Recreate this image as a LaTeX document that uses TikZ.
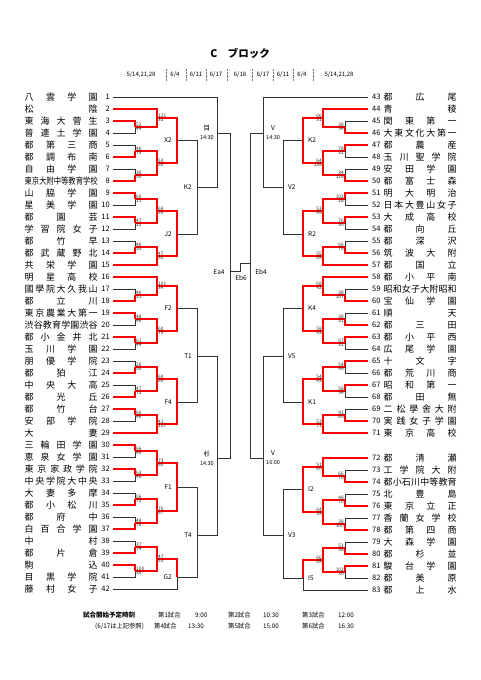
\documentclass[tikz,border=0pt]{standalone}
\usepackage{fontspec}
\setmainfont{Noto Sans CJK JP}
\usepackage{graphicx}
\usetikzlibrary{positioning}

\tikzset{
plainline/.style = {draw=black!80, line width=0.6pt},
winline/.style = {draw=red, line width=1.3pt},
sepline/.style = {draw=black!55, line width=0.4pt, densely dotted},
teamname/.style = {inner sep=0pt, font=\fontsize{9}{9}\selectfont},
teamno/.style = {inner sep=0pt, font=\fontsize{7.5}{8}\selectfont},
score/.style = {inner sep=0.2pt, text=black!85, font=\fontsize{4.8}{5}\selectfont},
mlabel/.style = {inner sep=0pt, align=center, font=\fontsize{6.5}{9}\selectfont},
datelabel/.style = {inner sep=0pt, font=\fontsize{6}{6}\selectfont},
foot/.style = {inner sep=0pt, anchor=west, font=\fontsize{6.3}{7}\selectfont}
}

% names spread over a fixed width
\newsavebox\namebox
\def\spfirst#1{#1\sploop}
\def\sploop#1{\ifx\relax#1\else\hfill#1\expandafter\sploop\fi}
\newcommand\spreadname[2]{\sbox\namebox{#1}%
  \ifdim\wd\namebox>#2\resizebox{#2}{\height}{#1}\else\makebox[#2][s]{\spfirst#1\relax}\fi}

\newcommand\bseg[2]{\draw[plainline] (#1) -| (#2);}
\newcommand\rseg[2]{\draw[winline] (#1) -| (#2);}
\newcommand\lsc[3]{\node[score, anchor=south west] (#1-u) at ([xshift=0.8pt]#1) {#2};
  \node[score, anchor=north west] (#1-d) at ([xshift=0.8pt]#1) {#3};}
\newcommand\rsc[3]{\node[score, anchor=south east] (#1-u) at ([xshift=-0.8pt]#1) {#2};
  \node[score, anchor=north east] (#1-d) at ([xshift=-0.8pt]#1) {#3};}

\begin{document}
\begin{tikzpicture}[x=1pt,y=-1pt]
\useasboundingbox (0,0) rectangle (481,680);

% header
\node[font=\bfseries\fontsize{10.5}{11}\selectfont] (title) at (240,53) {C\quad ブロック};
\node[datelabel] (d1) at (141,75) {5/14,21,28};
\node[datelabel] (d2) at (175,75) {6/4};
\node[datelabel] (d3) at (196,75) {6/11};
\node[datelabel] (d4) at (216,75) {6/17};
\node[datelabel] (d5) at (240,75) {6/18};
\node[datelabel] (d6) at (263,75) {6/17};
\node[datelabel] (d7) at (283,75) {6/11};
\node[datelabel] (d8) at (302,75) {6/4};
\node[datelabel] (d9) at (339,75) {5/14,21,28};
\foreach \x in {166,186,206,227,252,273,293,313}
  \draw[sepline] (\x,69) -- (\x,81);

% left teams
\foreach \i/\nm in {1/八雲学園, 2/松陰, 3/東海大菅生, 4/普連土学園, 5/都第三商,
  6/都調布南, 7/自由学園, 8/東京大附中等教育学校, 9/山脇学園, 10/星美学園,
  11/都園芸, 12/学習院女子, 13/都竹早, 14/都武蔵野北, 15/共栄学園, 16/明星高校,
  17/國學院大久我山, 18/都立川, 19/東京農業大第一, 20/渋谷教育学園渋谷,
  21/都小金井北, 22/玉川学園, 23/朋優学院, 24/都狛江, 25/中央大高, 26/都光丘,
  27/都竹台, 28/安部学院, 29/大妻, 30/三輪田学園, 31/恵泉女学園, 32/東京家政学院,
  33/中央学院大中央, 34/大妻多摩, 35/都小松川, 36/都府中, 37/白百合学園,
  38/中村, 39/都片倉, 40/駒込, 41/目黒学院, 42/藤村女子}{
  \pgfmathsetmacro\yy{97+12*(\i-1)}
  \node[teamname, anchor=west] (ln\i) at (24.5,\yy) {\expandafter\spreadname\expandafter{\nm}{73pt}};
  \node[teamno, anchor=east] (lno\i) at (110,\yy) {\i};
  \coordinate (t\i) at (113,\yy);
}

% right teams
\foreach \i/\nm in {43/都広尾, 44/青稜, 45/関東第一, 46/大東文化大第一, 47/都農産,
  48/玉川聖学院, 49/安田学園, 50/都富士森, 51/明大明治, 52/日本大豊山女子,
  53/大成高校, 54/都向丘, 55/都深沢, 56/筑波大附, 57/都国立, 58/都小平南,
  59/昭和女子大附昭和, 60/宝仙学園, 61/順天, 62/都三田, 63/都小平西, 64/広尾学園,
  65/十文字, 66/都荒川商, 67/昭和第一, 68/都田無, 69/二松學舍大附, 70/実践女子学園,
  71/東京高校, 72/都清瀬, 73/工学院大附, 74/都小石川中等教育, 75/北豊島,
  76/東京立正, 77/香蘭女学校, 78/都第四商, 79/大森学園, 80/都杉並, 81/駿台学園,
  82/都美原, 83/都上水}{
  \pgfmathsetmacro\yy{\i<72 ? 97+12*(\i-43) : 458+12*(\i-72)}
  \node[teamname, anchor=west] (rn\i) at (383.5,\yy) {\expandafter\spreadname\expandafter{\nm}{73pt}};
  \node[teamno, anchor=west] (rno\i) at (372,\yy) {\i};
  \coordinate (t\i) at (368,\yy);
}

% left matches
\foreach \a/\b in {3/4, 5/6, 7/8, 9/10, 11/12, 13/14, 17/18, 19/20, 21/22,
  23/24, 25/26, 27/28, 30/31, 32/33, 34/35, 36/37, 38/39, 40/41}
  \coordinate (l\a\b) at (135,{103+12*(\a-1)});
\coordinate (la) at (157,118);
\coordinate (lb) at (157,163);
\coordinate (lc) at (157,211);
\coordinate (ld) at (157,256);
\coordinate (le) at (157,286);
\coordinate (lf) at (157,331);
\coordinate (lg) at (157,379);
\coordinate (lh) at (157,424);
\coordinate (li) at (157,463);
\coordinate (lj) at (157,511);
\coordinate (lk) at (157,559);
\coordinate (lX2) at (177,140);
\coordinate (lJ2) at (177,234);
\coordinate (lF2) at (177,308);
\coordinate (lF4) at (177,402);
\coordinate (lF1) at (177,487);
\coordinate (lG2) at (177,577);
\coordinate (lK2) at (197,187);
\coordinate (lT1) at (197,356);
\coordinate (lT4) at (197,535);
\coordinate (lme) at (217,133);
\coordinate (lsugi) at (217,458);
\coordinate (ea4) at (230,271);

% right matches
\foreach \a/\b in {45/46, 47/48, 49/50, 51/52, 53/54, 55/56, 59/60, 61/62, 63/64,
  65/66, 67/68, 69/70, 73/74, 75/76, 77/78, 79/80, 81/82}
  \coordinate (r\a\b) at (345,{\a<72 ? 103+12*(\a-43) : 464+12*(\a-72)});
\coordinate (ra) at (323,118);
\coordinate (rb) at (323,163);
\coordinate (rc) at (323,211);
\coordinate (rd) at (323,256);
\coordinate (re) at (323,286);
\coordinate (rf) at (323,331);
\coordinate (rg) at (323,379);
\coordinate (rh) at (323,424);
\coordinate (ri) at (323,467);
\coordinate (rj) at (323,512);
\coordinate (rk) at (323,560);
\coordinate (rK2) at (303,140);
\coordinate (rR2) at (303,234);
\coordinate (rK4) at (303,308);
\coordinate (rK1) at (303,402);
\coordinate (rI2) at (303,489);
\coordinate (rI5) at (303,578);
\coordinate (rV2) at (283,187);
\coordinate (rV5) at (283,356);
\coordinate (rV3) at (283,535);
\coordinate (rv1) at (263,133);
\coordinate (rv2) at (263,458);
\coordinate (eb4) at (250,263);
\coordinate (eb6) at (240,267);

% left bracket
\bseg{t1}{lme}
\bseg{t4}{l34} \rseg{t3}{l34}
\rseg{t2}{la} \rseg{l34}{la}
\bseg{t5}{l56} \rseg{t6}{l56}
\bseg{t7}{l78} \rseg{t8}{l78}
\rseg{l56}{lb} \rseg{l78}{lb}
\rseg{la}{lX2} \rseg{lb}{lX2}
\bseg{t10}{l910} \rseg{t9}{l910}
\bseg{t12}{l1112} \rseg{t11}{l1112}
\rseg{l910}{lc} \rseg{l1112}{lc}
\bseg{t13}{l1314} \rseg{t14}{l1314}
\rseg{l1314}{ld} \rseg{t15}{ld}
\rseg{lc}{lJ2} \rseg{ld}{lJ2}
\bseg{lX2}{lK2} \bseg{lJ2}{lK2}
\bseg{lK2}{lme}
\bseg{t17}{l1718} \rseg{t18}{l1718}
\rseg{t16}{le} \rseg{l1718}{le}
\bseg{t20}{l1920} \rseg{t19}{l1920}
\bseg{t22}{l2122} \rseg{t21}{l2122}
\rseg{l1920}{lf} \rseg{l2122}{lf}
\rseg{le}{lF2} \rseg{lf}{lF2}
\bseg{t23}{l2324} \rseg{t24}{l2324}
\bseg{t25}{l2526} \rseg{t26}{l2526}
\rseg{l2324}{lg} \rseg{l2526}{lg}
\bseg{t28}{l2728} \rseg{t27}{l2728}
\rseg{l2728}{lh} \rseg{t29}{lh}
\rseg{lg}{lF4} \rseg{lh}{lF4}
\bseg{lF2}{lT1} \bseg{lF4}{lT1}
\bseg{t31}{l3031} \rseg{t30}{l3031}
\bseg{t33}{l3233} \rseg{t32}{l3233}
\rseg{l3031}{li} \rseg{l3233}{li}
\bseg{t34}{l3435} \rseg{t35}{l3435}
\bseg{t36}{l3637} \rseg{t37}{l3637}
\rseg{l3435}{lj} \rseg{l3637}{lj}
\rseg{li}{lF1} \rseg{lj}{lF1}
\bseg{t38}{l3839} \rseg{t39}{l3839}
\bseg{t41}{l4041} \rseg{t40}{l4041}
\rseg{l3839}{lk} \rseg{l4041}{lk}
\bseg{t42}{lG2} \rseg{lk}{lG2}
\bseg{lF1}{lT4} \bseg{lG2}{lT4}
\bseg{lT1}{lsugi} \bseg{lT4}{lsugi}
\bseg{lme}{ea4} \bseg{lsugi}{ea4}

% right bracket
\bseg{t43}{rv1}
\bseg{t45}{r4546} \rseg{t46}{r4546}
\rseg{t44}{ra} \rseg{r4546}{ra}
\bseg{t48}{r4748} \rseg{t47}{r4748}
\bseg{t49}{r4950} \rseg{t50}{r4950}
\rseg{r4748}{rb} \rseg{r4950}{rb}
\rseg{ra}{rK2} \rseg{rb}{rK2}
\bseg{t52}{r5152} \rseg{t51}{r5152}
\bseg{t54}{r5354} \rseg{t53}{r5354}
\rseg{r5152}{rc} \rseg{r5354}{rc}
\bseg{t55}{r5556} \rseg{t56}{r5556}
\rseg{r5556}{rd} \rseg{t57}{rd}
\rseg{rc}{rR2} \rseg{rd}{rR2}
\bseg{rK2}{rV2} \bseg{rR2}{rV2}
\bseg{rV2}{rv1}
\bseg{t59}{r5960} \rseg{t60}{r5960}
\rseg{t58}{re} \rseg{r5960}{re}
\bseg{t61}{r6162} \rseg{t62}{r6162}
\bseg{t64}{r6364} \rseg{t63}{r6364}
\rseg{r6162}{rf} \rseg{r6364}{rf}
\rseg{re}{rK4} \rseg{rf}{rK4}
\bseg{t66}{r6566} \rseg{t65}{r6566}
\bseg{t68}{r6768} \rseg{t67}{r6768}
\rseg{r6566}{rg} \rseg{r6768}{rg}
\bseg{t69}{r6970} \rseg{t70}{r6970}
\rseg{r6970}{rh} \rseg{t71}{rh}
\rseg{rg}{rK1} \rseg{rh}{rK1}
\bseg{rK4}{rV5} \bseg{rK1}{rV5}
\bseg{t73}{r7374} \rseg{t74}{r7374}
\rseg{t72}{ri} \rseg{r7374}{ri}
\bseg{t75}{r7576} \rseg{t76}{r7576}
\bseg{t77}{r7778} \rseg{t78}{r7778}
\rseg{r7576}{rj} \rseg{r7778}{rj}
\rseg{ri}{rI2} \rseg{rj}{rI2}
\bseg{t79}{r7980} \rseg{t80}{r7980}
\bseg{t82}{r8182} \rseg{t81}{r8182}
\rseg{r7980}{rk} \rseg{r8182}{rk}
\bseg{t83}{rI5} \rseg{rk}{rI5}
\bseg{rI2}{rV3} \bseg{rI5}{rV3}
\bseg{rV5}{rv2} \bseg{rV3}{rv2}
\bseg{rv1}{eb4} \bseg{rv2}{eb4}
\bseg{ea4}{eb6} \bseg{eb4}{eb6}

% scores
\lsc{l34}{52}{44} \lsc{l56}{46}{79} \lsc{l78}{36}{55} \lsc{l910}{60}{11}
\lsc{l1112}{47}{32} \lsc{l1314}{46}{53} \lsc{l1718}{46}{51} \lsc{l1920}{48}{46}
\lsc{l2122}{61}{44} \lsc{l2324}{26}{59} \lsc{l2526}{47}{72} \lsc{l2728}{66}{46}
\lsc{l3031}{66}{46} \lsc{l3233}{63}{46} \lsc{l3435}{56}{73} \lsc{l3637}{48}{70}
\lsc{l3839}{37}{74} \lsc{l4041}{100}{35}
\lsc{la}{131}{33} \lsc{lb}{53}{50} \lsc{lc}{68}{59} \lsc{ld}{47}{93}
\lsc{le}{101}{34} \lsc{lf}{60}{75} \lsc{lg}{60}{69} \lsc{lh}{41}{107}
\lsc{li}{73}{60} \lsc{lj}{76}{67} \lsc{lk}{47}{53}
\rsc{r4546}{38}{54} \rsc{r4748}{78}{32} \rsc{r4950}{34}{116} \rsc{r5152}{102}{26}
\rsc{r5354}{76}{30} \rsc{r5556}{66}{76} \rsc{r5960}{38}{107} \rsc{r6162}{38}{51}
\rsc{r6364}{67}{32} \rsc{r6566}{54}{46} \rsc{r6768}{58}{54} \rsc{r6970}{41}{65}
\rsc{r7374}{66}{76} \rsc{r7576}{48}{70} \rsc{r7778}{38}{100} \rsc{r7980}{51}{56}
\rsc{r8182}{102}{50}
\rsc{ra}{66}{51} \rsc{rb}{64}{135} \rsc{rc}{53}{49} \rsc{rd}{55}{69}
\rsc{re}{68}{42} \rsc{rf}{58}{43} \rsc{rg}{54}{43} \rsc{rh}{53}{71}
\rsc{ri}{91}{60} \rsc{rj}{64}{39} \rsc{rk}{66}{69}

% match labels
\node[mlabel, left=5pt of lX2] (labX2) {X2};
\node[mlabel, left=5pt of lJ2] (labJ2) {J2};
\node[mlabel, left=5pt of lF2] (labF2) {F2};
\node[mlabel, left=5pt of lF4] (labF4) {F4};
\node[mlabel, left=5pt of lF1] (labF1) {F1};
\node[mlabel, left=5pt of lG2] (labG2) {G2};
\node[mlabel, left=5pt of lK2] (labK2) {K2};
\node[mlabel, left=5pt of lT1] (labT1) {T1};
\node[mlabel, left=5pt of lT4] (labT4) {T4};
\node[mlabel, left=3pt of lme] (labme) {目\\{\fontsize{5.5}{6}\selectfont 14:30}};
\node[mlabel, left=3pt of lsugi] (labsugi) {杉\\{\fontsize{5.5}{6}\selectfont 14:30}};
\node[mlabel, right=5pt of rK2] (labrK2) {K2};
\node[mlabel, right=5pt of rR2] (labR2) {R2};
\node[mlabel, right=5pt of rK4] (labK4) {K4};
\node[mlabel, right=5pt of rK1] (labK1) {K1};
\node[mlabel, right=5pt of rI2] (labI2) {I2};
\node[mlabel, right=5pt of rI5] (labI5) {I5};
\node[mlabel, right=5pt of rV2] (labV2) {V2};
\node[mlabel, right=5pt of rV5] (labV5) {V5};
\node[mlabel, right=5pt of rV3] (labV3) {V3};
\node[mlabel, right=3pt of rv1] (labv1) {V\\{\fontsize{5.5}{6}\selectfont 14:30}};
\node[mlabel, right=3pt of rv2] (labv2) {V\\{\fontsize{5.5}{6}\selectfont 16:00}};
\node[mlabel] (labEa4) at (219,272) {Ea4};
\node[mlabel] (labEb4) at (261,272) {Eb4};
\node[mlabel] (labEb6) at (241,278) {Eb6};

% schedule
\node[foot, font=\bfseries\fontsize{6.5}{7}\selectfont] (f0) at (83,615) {試合開始予定時刻};
\node[foot] (f1) at (158,615) {第1試合};
\node[foot] (f2) at (195,615) {9:00};
\node[foot] (f3) at (228,615) {第2試合};
\node[foot] (f4) at (263,615) {10:30};
\node[foot] (f5) at (302,615) {第3試合};
\node[foot] (f6) at (338,615) {12:00};
\node[foot] (g0) at (95,626) {(6/17は上記参照)};
\node[foot] (g1) at (154,626) {第4試合};
\node[foot] (g2) at (188,626) {13:30};
\node[foot] (g3) at (228,626) {第5試合};
\node[foot] (g4) at (263,626) {15:00};
\node[foot] (g5) at (302,626) {第6試合};
\node[foot] (g6) at (338,626) {16:30};
\end{tikzpicture}
\end{document}
